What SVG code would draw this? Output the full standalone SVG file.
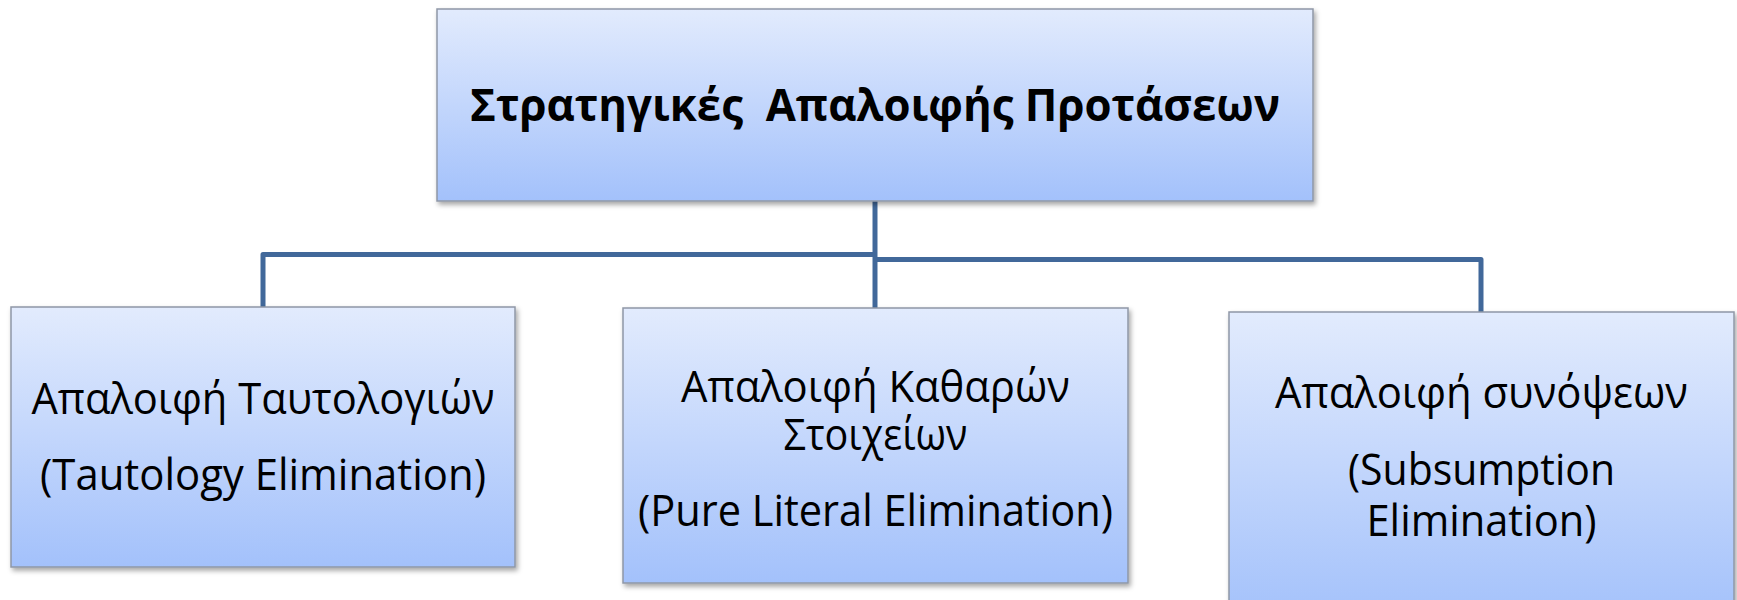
<svg xmlns="http://www.w3.org/2000/svg" width="1737" height="600" viewBox="0 0 1737 600">
<style>
.box{fill:url(#g);stroke:#8f97a6;stroke-width:1.5;filter:url(#sh)}
.t{font-family:"Open Sans","Liberation Sans",sans-serif;font-size:44px;fill:#000;text-anchor:middle}
.title{font-family:"Open Sans","Liberation Sans",sans-serif;font-size:45px;font-weight:bold;fill:#000;text-anchor:middle;white-space:pre}
.c{fill:none;stroke:#41689a;stroke-width:5;stroke-linejoin:round}
</style>
<defs>
<linearGradient id="g" x1="0" y1="0" x2="0" y2="1">
<stop offset="0" stop-color="#e2ebfd"/>
<stop offset="1" stop-color="#a3c1fb"/>
</linearGradient>
<filter id="sh" x="-5%" y="-5%" width="115%" height="120%">
<feDropShadow dx="2" dy="3" stdDeviation="2.5" flood-color="#000" flood-opacity="0.35"/>
</filter>
</defs>
<g id="connectors">
<path class="c" d="M875 201 V308"/>
<path class="c" d="M875 254.5 H263 V307"/>
<path class="c" d="M875 259.5 H1481 V312"/>
</g>
<g id="root">
<rect class="box" x="437" y="9" width="876" height="192"/>
<text class="title" x="875" y="121" textLength="810" lengthAdjust="spacingAndGlyphs" xml:space="preserve">Στρατηγικές  Απαλοιφής Προτάσεων</text>
</g>
<g id="tautology">
<rect class="box" x="11" y="307" width="504" height="260"/>
<text class="t" x="263" y="414" textLength="463" lengthAdjust="spacingAndGlyphs">Απαλοιφή Ταυτολογιών</text>
<text class="t" x="263" y="490" textLength="446" lengthAdjust="spacingAndGlyphs">(Tautology Elimination)</text>
</g>
<g id="pure">
<rect class="box" x="623" y="308" width="505" height="275"/>
<text class="t" x="875.5" y="402" textLength="389" lengthAdjust="spacingAndGlyphs">Απαλοιφή Καθαρών</text>
<text class="t" x="875.5" y="450" textLength="184" lengthAdjust="spacingAndGlyphs">Στοιχείων</text>
<text class="t" x="875.5" y="526" textLength="475" lengthAdjust="spacingAndGlyphs">(Pure Literal Elimination)</text>
</g>
<g id="subsumption">
<rect class="box" x="1229" y="312" width="505" height="310"/>
<text class="t" x="1481.5" y="408" textLength="413" lengthAdjust="spacingAndGlyphs">Απαλοιφή συνόψεων</text>
<text class="t" x="1481.5" y="485" textLength="267" lengthAdjust="spacingAndGlyphs">(Subsumption</text>
<text class="t" x="1481.5" y="536" textLength="230" lengthAdjust="spacingAndGlyphs">Elimination)</text>
</g>
</svg>
